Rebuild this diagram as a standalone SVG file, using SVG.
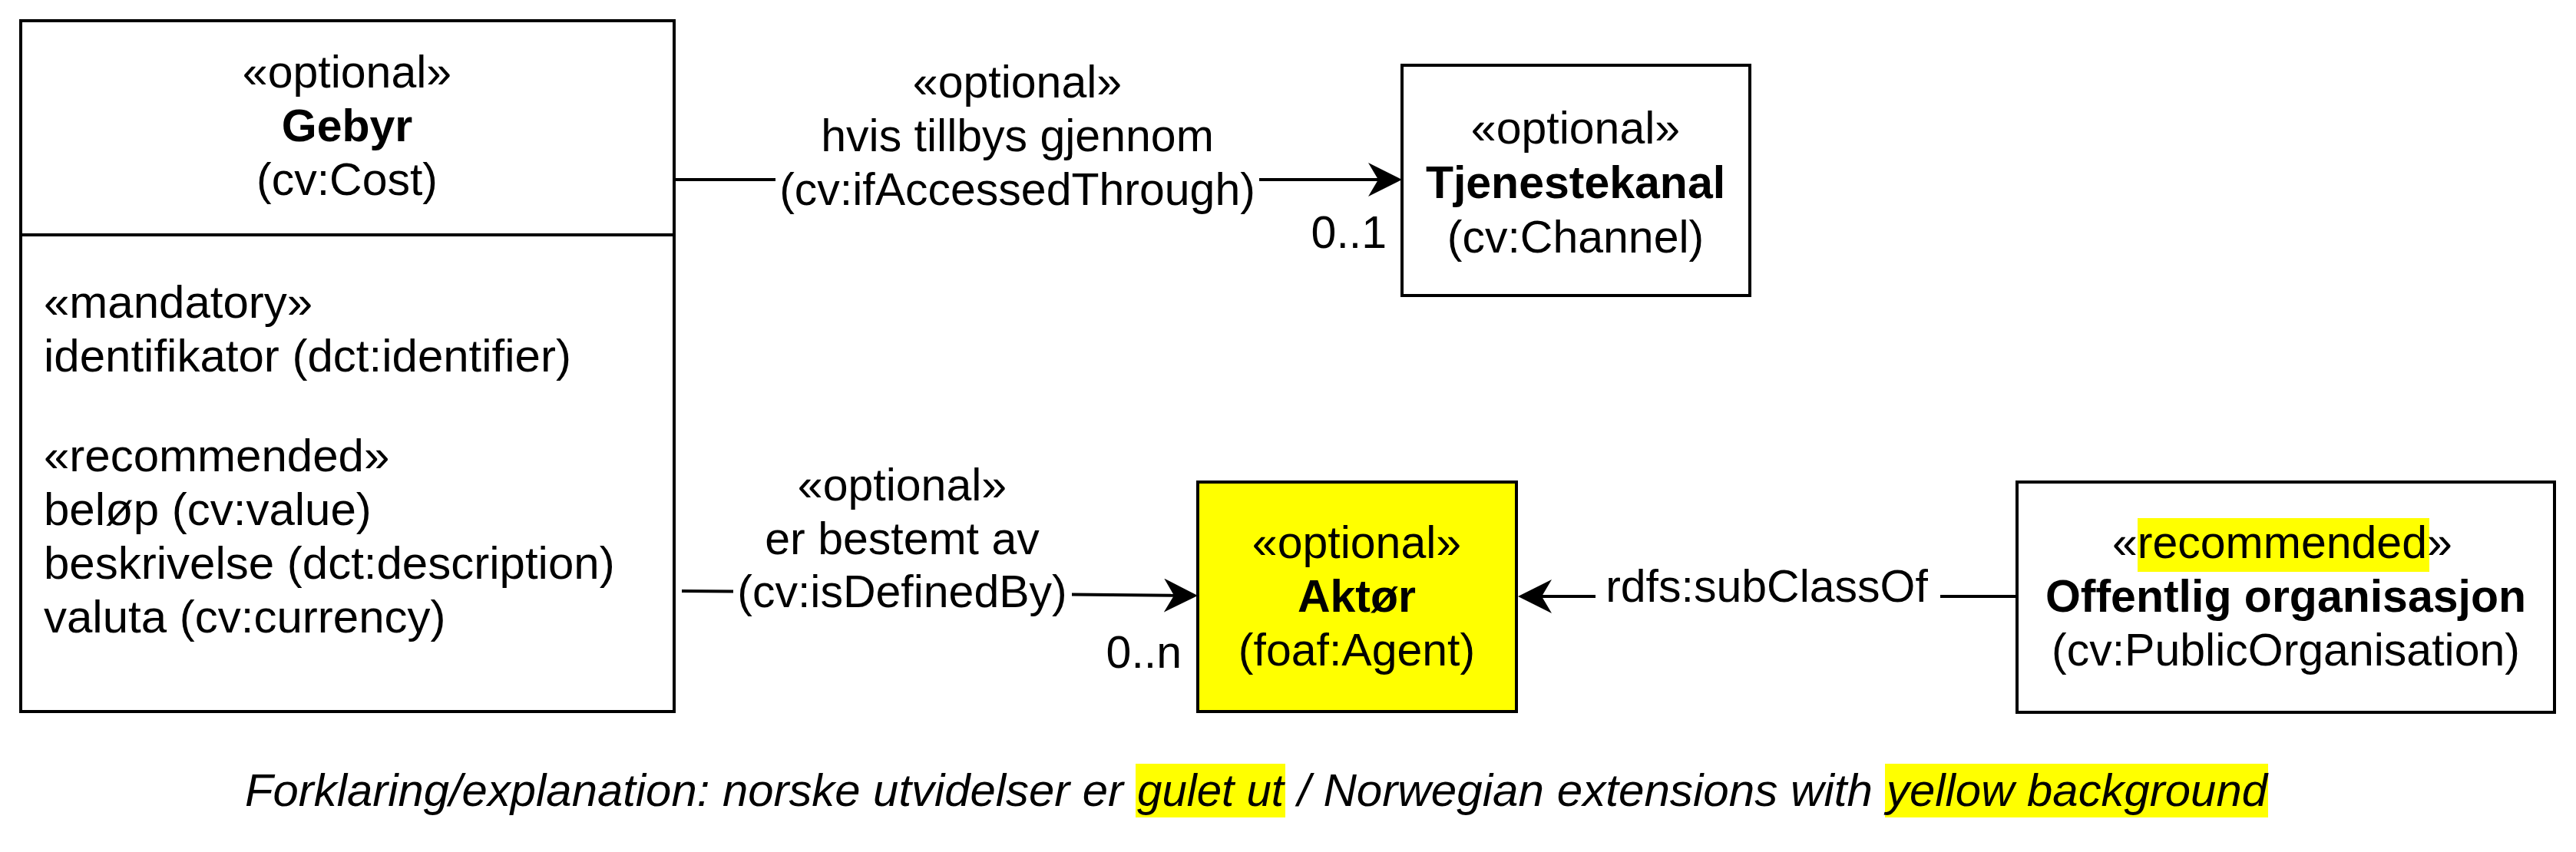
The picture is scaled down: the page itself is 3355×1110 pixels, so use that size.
<svg xmlns="http://www.w3.org/2000/svg" width="3355" height="1110" viewBox="0 0 3355 1110">
<style>
.box{fill:#fff;stroke:#000;stroke-width:4}
.yel{fill:#ffff00;stroke:#000;stroke-width:4}
.hl{fill:#ffff00;stroke:none}
.ln{fill:none;stroke:#000;stroke-width:4}
text{font-family:"Liberation Sans",Arial,Helvetica,sans-serif;font-size:59px;fill:#000}
.attr{font-size:60px}
.c{text-anchor:middle}
.e{text-anchor:end}
.b{font-weight:bold}
.i{font-style:italic}
</style>
<defs>
<marker id="arr" viewBox="0 0 44 44" refX="13" refY="22" markerWidth="44" markerHeight="44" markerUnits="userSpaceOnUse" orient="auto">
<path d="M0,0 L44,22 L0,44 L13,22 Z" fill="#000"/>
</marker>
</defs>
<rect width="3355" height="1110" fill="#fff"/>

<g id="gebyr">
<rect class="box" x="27" y="27" width="851" height="900"/>
<line class="ln" x1="27" y1="306" x2="878" y2="306"/>
<text class="c" x="452" y="114">«optional»</text>
<text class="c b" x="452" y="184">Gebyr</text>
<text class="c" x="452" y="254">(cv:Cost)</text>
<text class="attr" x="57" y="414">«mandatory»</text>
<text class="attr" x="57" y="484">identifikator (dct:identifier)</text>
<text class="attr" x="57" y="614">«recommended»</text>
<text class="attr" x="57" y="684">beløp (cv:value)</text>
<text class="attr" x="57" y="754">beskrivelse (dct:description)</text>
<text class="attr" x="57" y="824">valuta (cv:currency)</text>
</g>

<g id="tjenestekanal">
<rect class="box" x="1826" y="85" width="453" height="300"/>
<text class="c" x="2052" y="187">«optional»</text>
<text class="c b" x="2052" y="258">Tjenestekanal</text>
<text class="c" x="2052" y="329">(cv:Channel)</text>
</g>

<g id="aktor">
<rect class="yel" x="1560" y="628" width="415" height="299"/>
<text class="c" x="1767" y="727">«optional»</text>
<text class="c b" x="1767" y="797">Aktør</text>
<text class="c" x="1767" y="867">(foaf:Agent)</text>
</g>

<g id="offentlig">
<rect class="box" x="2627" y="628" width="700" height="300"/>
<rect class="hl" x="2784" y="675" width="380" height="70"/>
<text x="2751" y="727">«recommended»</text>
<text class="c b" x="2977" y="797">Offentlig organisasjon</text>
<text class="c" x="2977" y="867">(cv:PublicOrganisation)</text>
</g>

<g id="connectors">
<line class="ln" x1="878" y1="234" x2="1010" y2="234"/>
<line class="ln" x1="1640" y1="234" x2="1795" y2="234" marker-end="url(#arr)"/>
<text class="c" x="1325" y="127">«optional»</text>
<text class="c" x="1325" y="197">hvis tillbys gjennom</text>
<text class="c" x="1325" y="267">(cv:ifAccessedThrough)</text>
<text class="e" x="1806" y="323">0..1</text>

<line class="ln" x1="888" y1="770" x2="955" y2="770.6"/>
<line class="ln" x1="1396" y1="774.5" x2="1529" y2="775.7" marker-end="url(#arr)"/>
<text class="c" x="1175" y="652">«optional»</text>
<text class="c" x="1175" y="722">er bestemt av</text>
<text class="c" x="1175" y="791">(cv:isDefinedBy)</text>
<text class="e" x="1539" y="870">0..n</text>

<line class="ln" x1="2627" y1="777" x2="2527" y2="777"/>
<line class="ln" x1="2078" y1="777" x2="2008" y2="777" marker-end="url(#arr)"/>
<text class="c" x="2301" y="784">rdfs:subClassOf</text>
</g>

<g id="legend">
<rect class="hl" x="1479" y="995" width="195" height="70"/>
<rect class="hl" x="2455" y="995" width="499" height="70"/>
<text class="i" x="319" y="1050" textLength="1144" lengthAdjust="spacingAndGlyphs">Forklaring/explanation: norske utvidelser er</text>
<text class="i" x="1481" y="1050" textLength="191" lengthAdjust="spacingAndGlyphs">gulet ut</text>
<text class="i" x="1690" y="1050" textLength="749" lengthAdjust="spacingAndGlyphs">/ Norwegian extensions with</text>
<text class="i" x="2457" y="1050" textLength="496" lengthAdjust="spacingAndGlyphs">yellow background</text>
</g>
</svg>
